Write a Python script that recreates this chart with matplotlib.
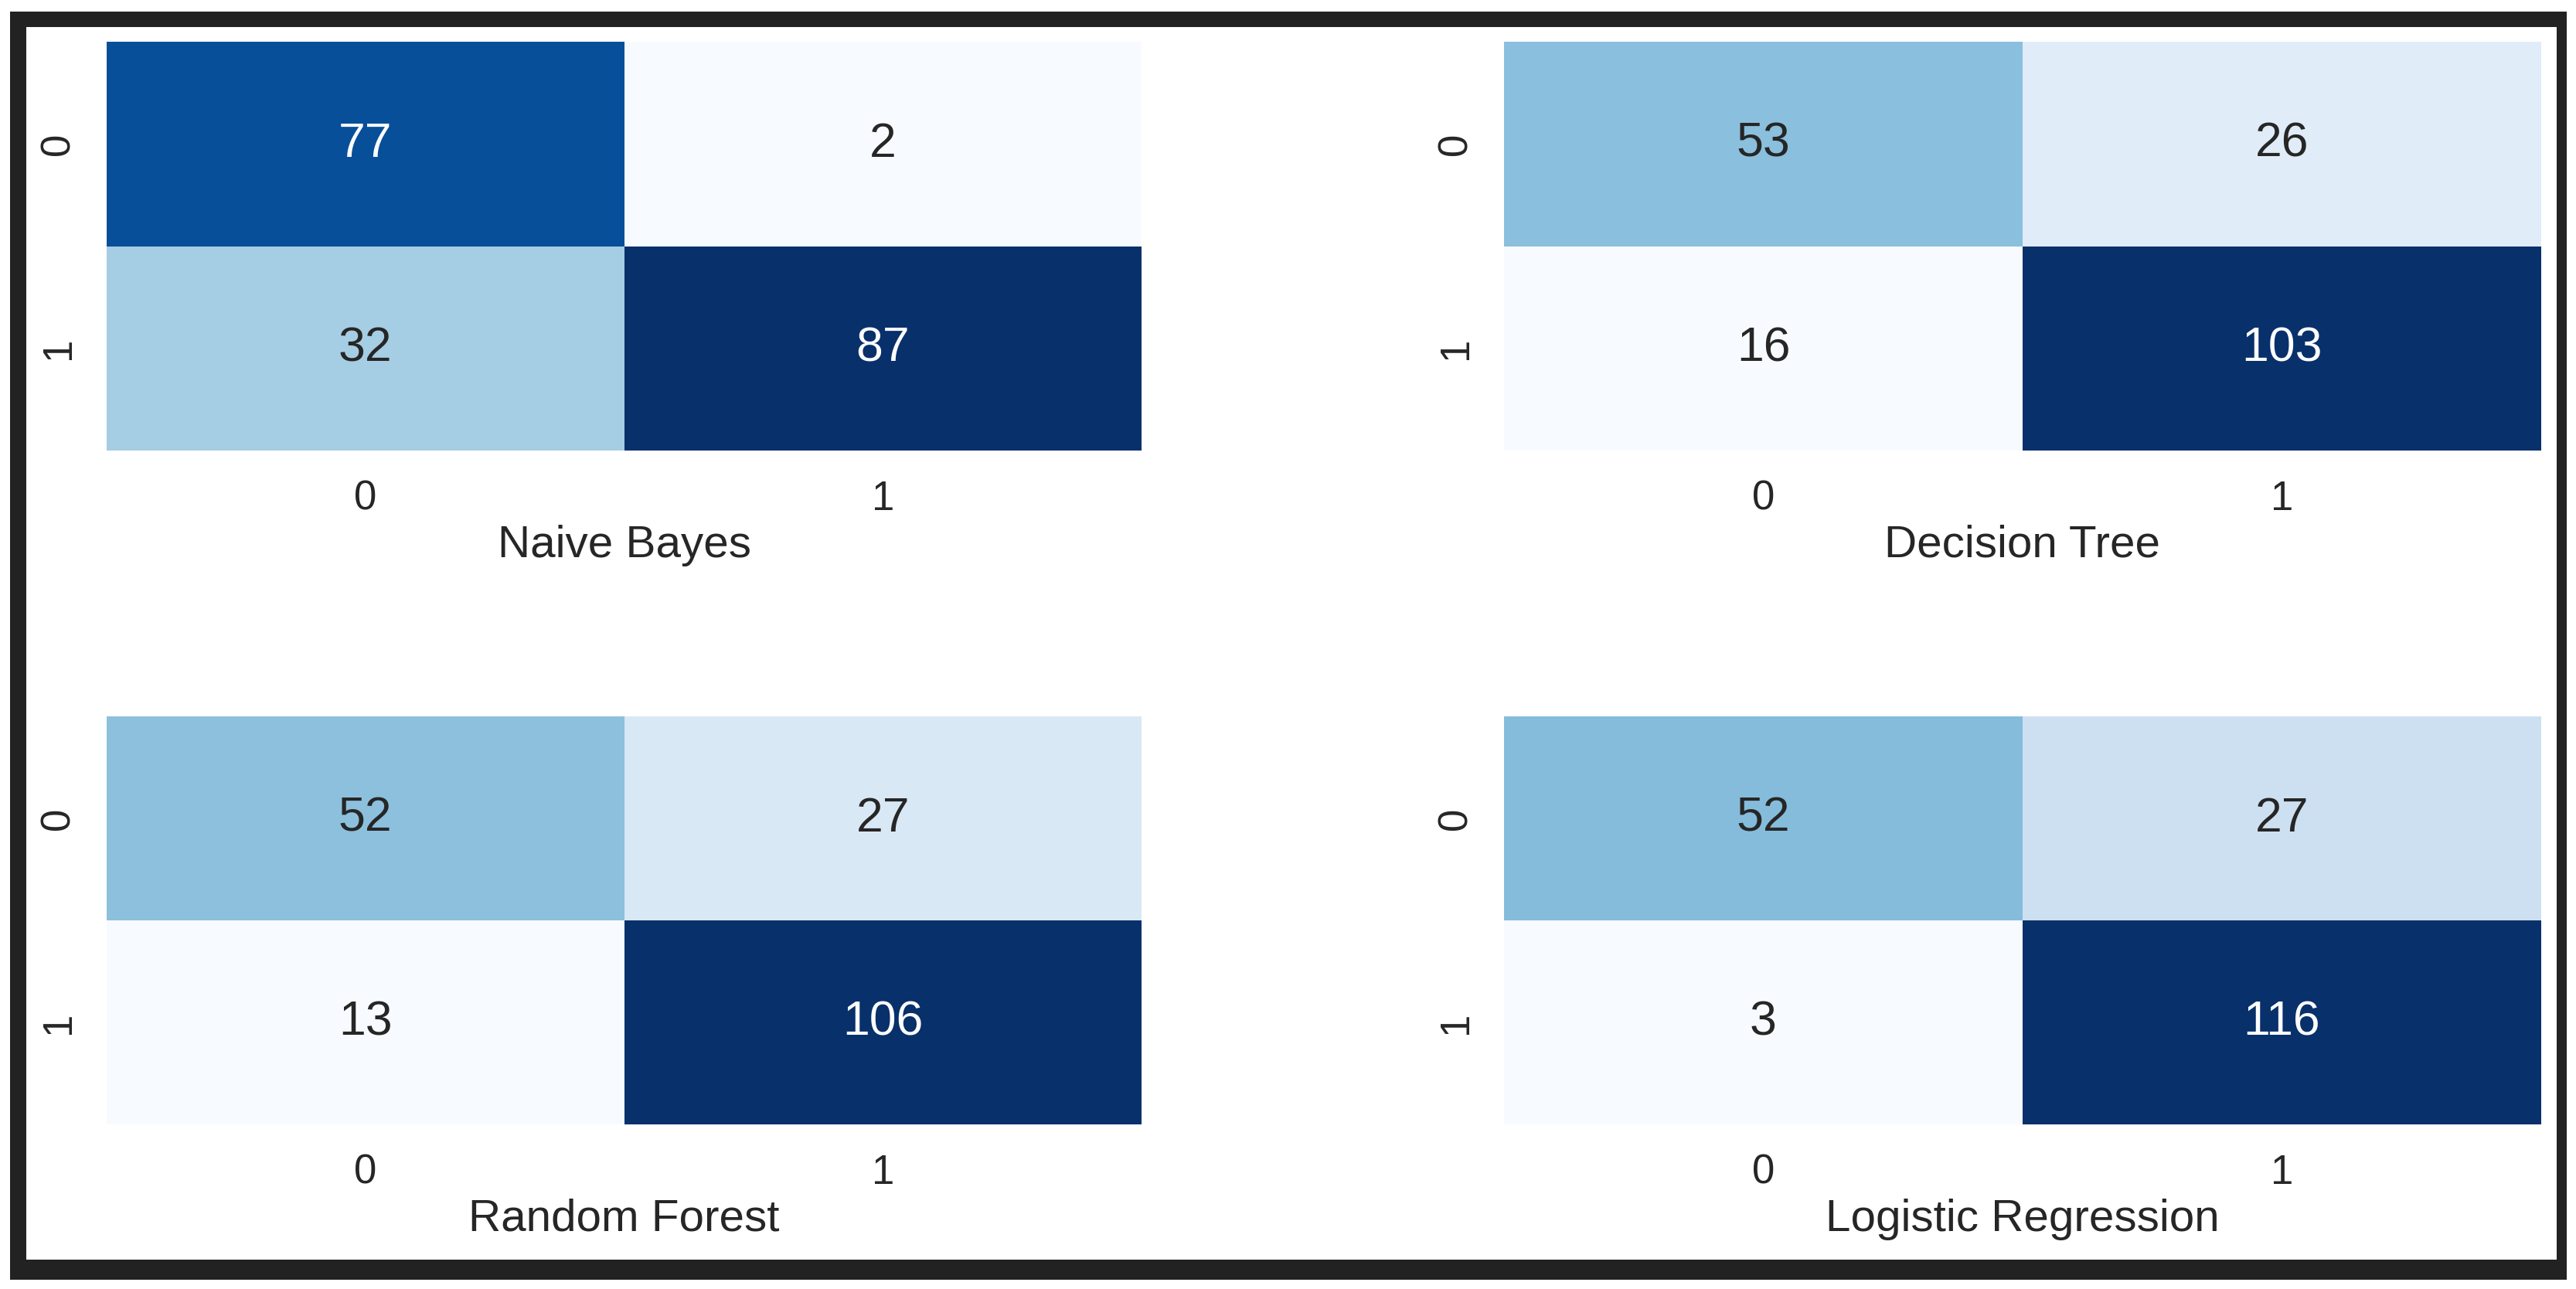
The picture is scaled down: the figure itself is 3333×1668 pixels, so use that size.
import matplotlib
matplotlib.use('Agg')
import matplotlib.pyplot as plt
import seaborn as sns
import numpy as np
from matplotlib.patches import Rectangle

# confusion matrices
naive_bayes = [[77, 2], [32, 87]]
decision_tree = [[53, 26], [16, 103]]
random_forest = [[52, 27], [13, 106]]
logistic_regression = [[52, 27], [3, 116]]

titles = ['Naive Bayes', 'Decision Tree', 'Random Forest', 'Logistic Regression']
matrices = [naive_bayes, decision_tree, random_forest, logistic_regression]
tick_labels = ['0', '1']

plt.rcParams['font.family'] = ['Liberation Sans', 'DejaVu Sans']

W, H = 3333, 1668
fig = plt.figure(figsize=(W / 100, H / 100), dpi=100)

# screenshot style dark frame
fig.patches.append(Rectangle((13 / W, 1 - 1656 / H), (3321 - 13) / W, (1656 - 15) / H,
                             transform=fig.transFigure, facecolor='#222222',
                             edgecolor='none', zorder=-2))
fig.patches.append(Rectangle((34 / W, 1 - 1630 / H), (3308 - 34) / W, (1630 - 35) / H,
                             transform=fig.transFigure, facecolor='white',
                             edgecolor='none', zorder=-1))

# axes boxes in pixels: (left, top, right, bottom)
boxes = [(138, 54, 1477, 583), (1946, 54, 3288, 583),
         (138, 927, 1477, 1455), (1946, 927, 3288, 1455)]

for mat, title, (x0, y0, x1, y1) in zip(matrices, titles, boxes):
    ax = fig.add_axes([x0 / W, 1 - y1 / H, (x1 - x0) / W, (y1 - y0) / H])
    sns.heatmap(np.array(mat), annot=True, fmt='d', cmap='Blues', cbar=False, ax=ax,
                annot_kws={'size': 45},
                xticklabels=tick_labels, yticklabels=tick_labels)
    ax.set_xlabel(title, fontsize=42, color='#262626', labelpad=6)
    ax.tick_params(axis='both', length=0, labelsize=38, labelcolor='#262626', pad=27)
    plt.setp(ax.get_yticklabels(), rotation=90, va='center')
    plt.setp(ax.get_xticklabels(), rotation=0)

fig.savefig('out.png', dpi=100, facecolor='white')
